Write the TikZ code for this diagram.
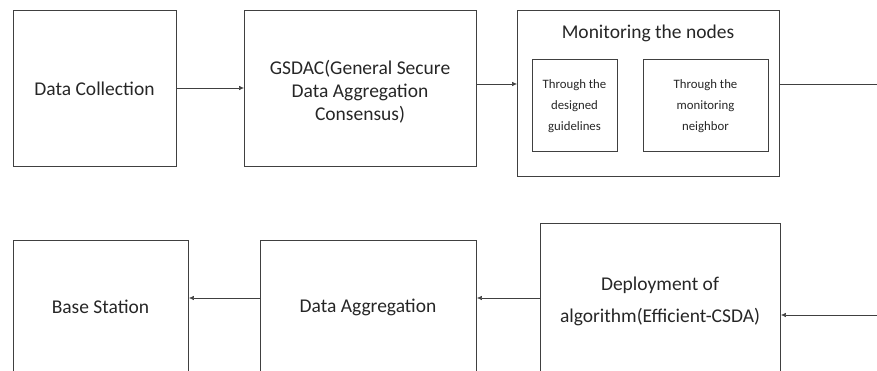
\documentclass[tikz,border=0pt]{standalone}
\usepackage{fontspec}
\setmainfont{Carlito}
\usetikzlibrary{arrows.meta}
\definecolor{linegray}{HTML}{404040}
\tikzset{
  box/.style={draw=linegray, line width=0.9pt, inner sep=0pt, anchor=north west},
  bigtxt/.style={font=\fontsize{19.5}{23}\selectfont, align=center, text=black!85, inner sep=0pt},
  smalltxt/.style={font=\fontsize{12.8}{21}\selectfont, align=center, text=black!85, inner sep=0pt},
  arr/.style={draw=linegray, line width=0.6pt, -{Latex[length=5pt,width=4.5pt]}},
  plain/.style={draw=linegray, line width=0.6pt}
}
\begin{document}
\begin{tikzpicture}[x=1pt,y=-1pt]
\useasboundingbox (0,0) rectangle (877,371);
\clip (0,0) rectangle (877,371);
% top row
\node[box, minimum width=163pt, minimum height=156pt] (dc) at (13,10) {};
\node[bigtxt] (dct) at (94.5,89) {Data Collection};
\node[box, minimum width=232pt, minimum height=156pt] (gs) at (244,10) {};
\node[bigtxt] (gst) at (360,92) {GSDAC(General Secure\\Data Aggregation\\Consensus)};
\node[box, minimum width=262pt, minimum height=166pt] (mon) at (517,10) {};
\node[bigtxt] (mont) at (648,33) {Monitoring the nodes};
\node[box, minimum width=85pt, minimum height=92pt] (ga) at (532,59) {};
\node[smalltxt] (gat) at (574.5,106) {Through the\\designed\\guidelines};
\node[box, minimum width=125pt, minimum height=92pt] (nb) at (643,59) {};
\node[smalltxt] (nbt) at (705.5,106) {Through the\\monitoring\\neighbor};
\coordinate (outr) at (877,84);
% bottom row
\node[box, minimum width=175pt, minimum height=160pt] (bs) at (13,240) {};
\node[bigtxt] (bst) at (100.5,307) {Base Station};
\node[box, minimum width=216pt, minimum height=160pt] (da) at (260,240) {};
\node[bigtxt] (dat) at (368,307) {Data Aggregation};
\node[box, minimum width=240pt, minimum height=170pt] (dep) at (540,223) {};
\node[bigtxt, font=\fontsize{19.5}{32}\selectfont] (dept) at (660,301) {Deployment of\\algorithm(Efficient-CSDA)};
\coordinate (inr) at (877,315);
% connectors
\draw[arr] (dc.east |- 0,88) -- (gs.west |- 0,88);
\draw[arr] (gs.east |- 0,84) -- (mon.west |- 0,84);
\draw[plain] (mon.east |- 0,84) -- (outr);
\draw[arr] (inr) -- (dep.east |- inr);
\draw[arr] (dep.west |- 0,298) -- (da.east |- 0,298);
\draw[arr] (da.west |- 0,298) -- (bs.east |- 0,298);
\end{tikzpicture}
\end{document}
